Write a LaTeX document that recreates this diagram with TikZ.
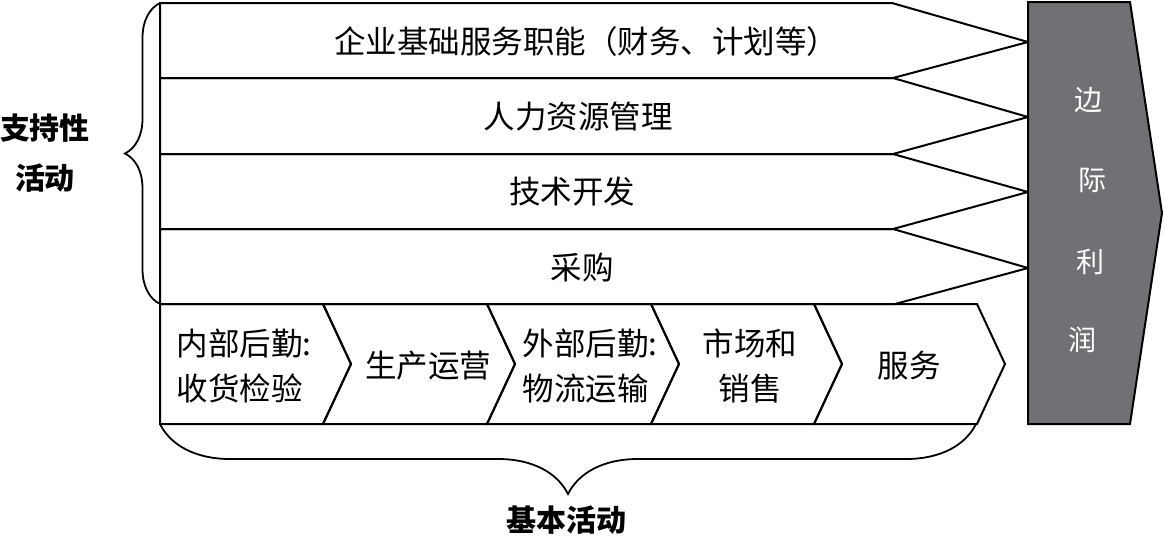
\documentclass[tikz,border=0pt]{standalone}
\usepackage{fontspec}
\newfontfamily\cjk{Noto Sans CJK SC}
\usetikzlibrary{decorations.pathreplacing}
\definecolor{margingray}{RGB}{112,113,116}

\begin{document}
\begin{tikzpicture}[x=1pt,y=-1pt,line width=2pt,
  every node/.style={font=\cjk\fontsize{31.5}{45}\selectfont,align=center,inner sep=0pt},
  boldlabel/.style={font=\cjk\bfseries\fontsize{30}{50}\selectfont},
  margintext/.style={text=white,font=\cjk\fontsize{28}{30}\selectfont},
  bracepath/.style={decorate,decoration={brace,amplitude=#1}}]
\useasboundingbox (0,0) rectangle (1165,536);
% support activities
\draw (160,3) -- (892,3) -- (1028,42) -- (893,78) -- (160,78) -- cycle;
\draw (160,78) -- (893,78) -- (1028,117) -- (893,154) -- (160,154) -- cycle;
\draw (160,154) -- (893,154) -- (1028,192) -- (893,229) -- (160,229) -- cycle;
\draw (160,229) -- (893,229) -- (1028,268) -- (895,304) -- (160,304) -- cycle;
\node (firm) at (586,42) {企业基础服务职能（财务、计划等）};
\node (hrm) at (578,117) {人力资源管理};
\node (tech) at (572,192) {技术开发};
\node (proc) at (582,268) {采购};
% margin
\draw[fill=margingray] (1028,2) -- (1130,2) -- (1162,213) -- (1130,424) -- (1028,424) -- cycle;
\node[margintext] (m1) at (1088,100) {边};
\node[margintext] (m2) at (1092,180) {际};
\node[margintext] (m3) at (1090,262) {利};
\node[margintext] (m4) at (1082,340) {润};
% primary activities
\draw (160,304) -- (323,304) -- (351,364) -- (323,424) -- (160,424) -- cycle;
\draw (323,304) -- (487,304) -- (515,364) -- (487,424) -- (323,424) -- (351,364) -- cycle;
\draw (487,304) -- (651,304) -- (679,364) -- (651,424) -- (487,424) -- (515,364) -- cycle;
\draw (651,304) -- (814,304) -- (842,364) -- (814,424) -- (651,424) -- (679,364) -- cycle;
\draw (814,304) -- (977,304) -- (1005,364) -- (977,424) -- (814,424) -- (842,364) -- cycle;
\node[align=left] (inlog) at (244,366) {内部后勤:\\收货检验};
\node (ops) at (428,366) {生产运营};
\node[align=left] (outlog) at (590,366) {外部后勤:\\物流运输};
\node (mkt) at (750,366) {市场和\\销售};
\node (srv) at (909,366) {服务};
% braces
\draw[line width=1.8pt,bracepath=35pt] (160,304) -- (160,3);
\draw[line width=1.8pt,bracepath=70pt] (976,424) -- (160,424);
\node[boldlabel] (support) at (45,153) {支持性\\活动};
\node[boldlabel] (primary) at (566,520) {基本活动};
\end{tikzpicture}
\end{document}
